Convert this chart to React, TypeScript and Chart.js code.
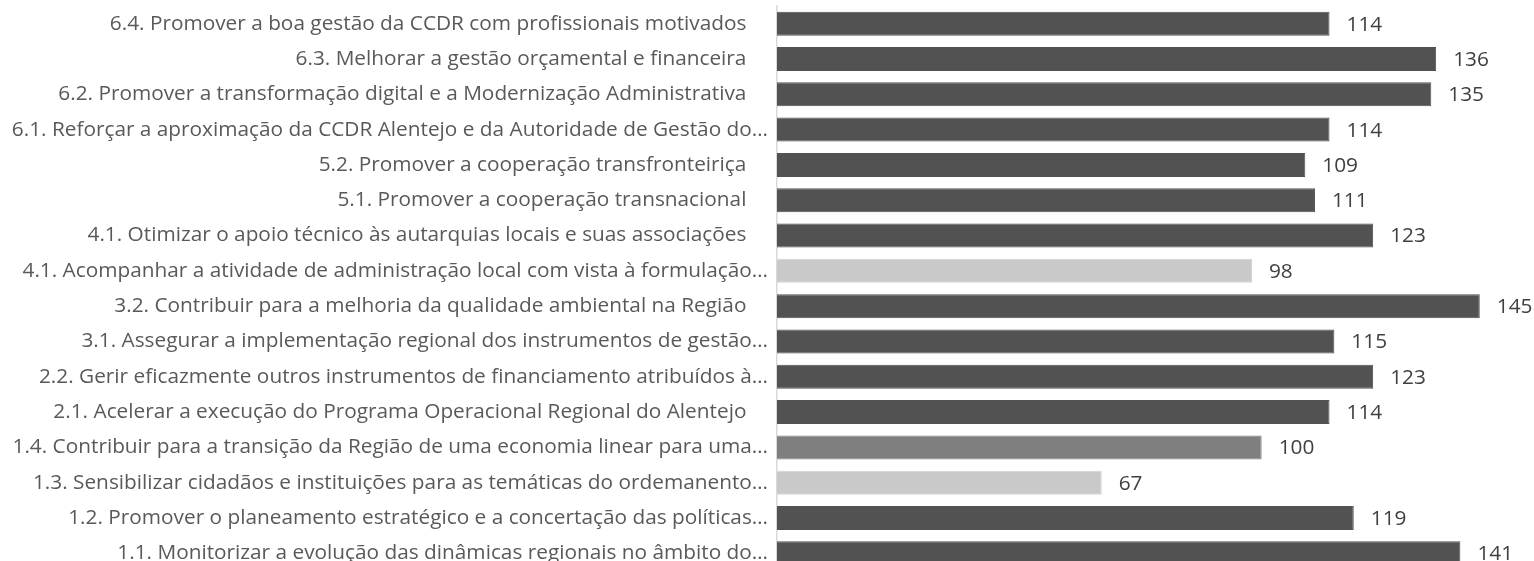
import React, { useEffect, useRef } from 'react';
import { Chart, registerables } from 'chart.js';

Chart.register(...registerables);

const categories: string[] = [
  '6.4. Promover a boa gestão da CCDR com profissionais motivados',
  '6.3. Melhorar a gestão orçamental e financeira',
  '6.2. Promover a transformação digital e a Modernização Administrativa',
  '6.1. Reforçar a aproximação da CCDR Alentejo e da Autoridade de Gestão do…',
  '5.2. Promover a cooperação transfronteiriça',
  '5.1. Promover a cooperação transnacional',
  '4.1. Otimizar o apoio técnico às autarquias locais e suas associações',
  '4.1. Acompanhar a atividade de administração local com vista à formulação…',
  '3.2. Contribuir para a melhoria da qualidade ambiental na Região',
  '3.1. Assegurar a implementação regional dos instrumentos de gestão…',
  '2.2. Gerir eficazmente outros instrumentos de financiamento atribuídos à…',
  '2.1. Acelerar a execução do Programa Operacional Regional do Alentejo',
  '1.4. Contribuir para a transição da Região de uma economia linear para uma…',
  '1.3. Sensibilizar cidadãos e instituições para as temáticas do ordemanento…',
  '1.2. Promover o planeamento estratégico e a concertação das políticas…',
  '1.1. Monitorizar a evolução das dinâmicas regionais no âmbito do…',
];

const values: number[] = [114, 136, 135, 114, 109, 111, 123, 98, 145, 115, 123, 114, 100, 67, 119, 141];

const DARK = '#525252';
const MID = '#7f7f7f';
const LIGHT = '#c9c9c9';

const barColors: string[] = [
  DARK, DARK, DARK, DARK, DARK, DARK, DARK, LIGHT,
  DARK, DARK, DARK, DARK, MID, LIGHT, DARK, DARK,
];

const FONT = '"Open Sans"';
const FONT_SIZE = 20.8;
const W = 1534;
const H = 576;

// Labels that are shown in full keep a trailing gap before the axis
const displayLabels = categories.map((c) => (c.endsWith('…') ? c : c + '\u00a0\u00a0\u00a0\u00a0'));

const valueLabels = {
  id: 'valueLabels',
  afterDatasetsDraw(chart: any) {
    const ctx = chart.ctx;
    const meta = chart.getDatasetMeta(0);
    ctx.save();
    ctx.font = `${FONT_SIZE}px ${FONT}`;
    ctx.fillStyle = '#404040';
    ctx.textAlign = 'left';
    ctx.textBaseline = 'middle';
    meta.data.forEach((el: any, i: number) => {
      ctx.fillText(String(values[i]), el.x + 17, el.y + 1);
    });
    ctx.restore();
  },
};

export default function App() {
  const ref = useRef<HTMLCanvasElement | null>(null);
  useEffect(() => {
    if (!ref.current) return;
    const chart = new Chart(ref.current, {
      type: 'bar',
      data: {
        labels: displayLabels,
        datasets: [
          {
            data: values,
            backgroundColor: barColors,
            borderColor: barColors.map((c) => (c === LIGHT ? '#d2d2d2' : c)),
            borderWidth: 1,
            barPercentage: 0.68,
            categoryPercentage: 1,
          },
        ],
      },
      options: {
        indexAxis: 'y',
        animation: false,
        responsive: false,
        layout: { padding: { top: 6, right: 30, bottom: 5, left: 0 } },
        plugins: {
          legend: { display: false },
          tooltip: { enabled: false },
        },
        scales: {
          x: {
            display: false,
            min: 0,
            max: 150,
          },
          y: {
            afterFit(scale: any) {
              scale.width = 777;
              scale.paddingTop = 0;
              scale.paddingBottom = 0;
            },
            grid: { display: false, drawTicks: false },
            border: { display: true, color: '#d9d9d9', width: 1.5 },
            ticks: {
              color: '#595959',
              padding: 9,
              autoSkip: false,
              font: { family: FONT, size: FONT_SIZE },
            },
          },
        },
      },
      plugins: [valueLabels],
    });
    return () => chart.destroy();
  }, []);
  return (
    <div style={{ position: 'absolute', left: 0, top: 0, width: W, height: H, background: '#fff' }}>
      <canvas ref={ref} width={W} height={H} style={{ display: 'block', width: W, height: H }} />
    </div>
  );
}
